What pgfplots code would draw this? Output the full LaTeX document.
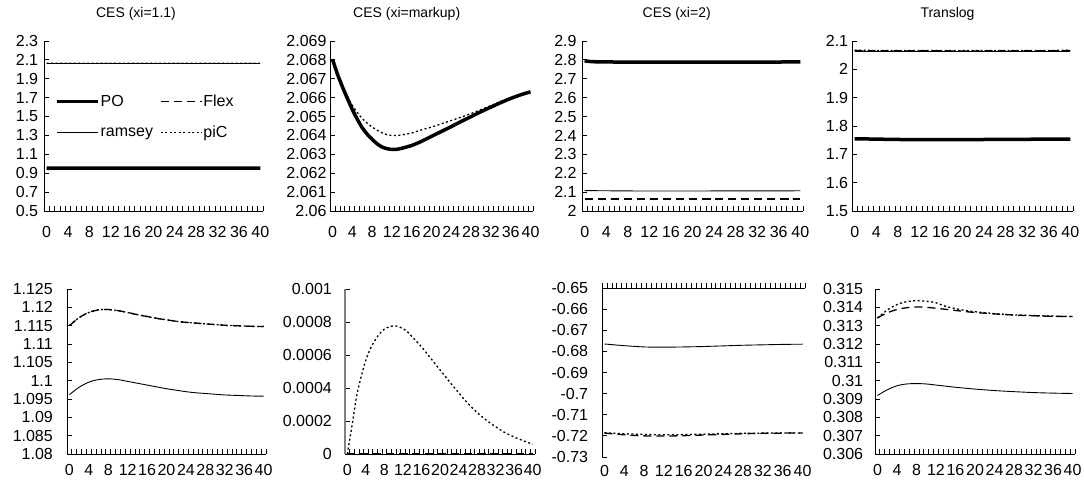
\documentclass[border=0pt]{standalone}
\usepackage{fontspec}
\setmainfont{Liberation Sans}
\usepackage{pgfplots}
\pgfplotsset{compat=1.18}
\pgfplotsset{
  panel/.style={
    scale only axis, anchor=north west,
    axis x line*=bottom, axis y line*=left,
    axis line style={-, black, line width=0.8pt},
    xmin=-0.5, xmax=40.5,
    xtick={0,4,...,40},
    xticklabels={0,4,8,12,16,20,24,28,32,36,40},
    minor xtick={-0.5,0.5,...,40.5},
    major x tick style={draw=none},
    tick align=inside,
    major tick length=5pt, minor tick length=5pt,
    tick style={black, line width=0.8pt},
    ticklabel style={font=\fontsize{16}{19}\selectfont, inner sep=0pt},
    xticklabel style={anchor=north},
    yticklabel style={anchor=east},
    scaled y ticks=false,
    clip=false,
  },
  PO/.style={black, line width=3.5pt, smooth},
  Flex/.style={black, line width=1.3pt, dash pattern=on 8pt off 5pt, smooth},
  ramsey/.style={black, line width=0.9pt, smooth},
  piC/.style={black, line width=1.3pt, dash pattern=on 2pt off 2.5pt, smooth},
}
\begin{document}
\begin{tikzpicture}
\useasboundingbox (0,0) rectangle (1084pt,-494pt);
\begin{scope}[font=\fontsize{14}{16}\selectfont]
\node at (136pt,-14pt) {CES (xi=1.1)};
\node at (406.7pt,-14pt) {CES (xi=markup)};
\node at (676.7pt,-14pt) {CES (xi=2)};
\node at (947.5pt,-14pt) {Translog};
\end{scope}

% ---------- Panel 1 ----------
\begin{axis}[panel, at={(44pt,-41pt)}, width=219pt, height=170pt,
  ymin=0.5, ymax=2.3,
  ytick={0.5,0.7,0.9,1.1,1.3,1.5,1.7,1.9,2.1,2.3},
  yticklabels={0.5,0.7,0.9,1.1,1.3,1.5,1.7,1.9,2.1,2.3},
  yticklabel style={xshift=-5.7pt},
  xticklabel style={yshift=-15.2pt},
  legend columns=2,
  legend image code/.code={\draw[#1] (0pt,0pt) -- (41pt,0pt);},
  legend style={draw=none, fill=none, at={(0.05,0.69)}, anchor=north west,
    font=\fontsize{16}{19}\selectfont, inner sep=0pt, row sep=16pt,
    nodes={inner sep=1pt, font=\fontsize{16}{19}\selectfont},
    /tikz/every even column/.append style={column sep=6pt}},
  legend cell align=left]
\addplot[PO] coordinates {(0,0.955) (20,0.953) (40,0.954)};
\addplot[Flex] coordinates {(0,2.062) (20,2.062) (40,2.062)};
\addplot[ramsey] coordinates {(0,2.060) (20,2.060) (40,2.060)};
\addplot[piC] coordinates {(0,2.065) (20,2.064) (40,2.065)};
\addplot[Flex, forget plot] coordinates {(0,2.062) (20,2.062) (40,2.062)};
\legend{PO,Flex,ramsey,piC}
\end{axis}

% ---------- Panel 2 ----------
\begin{axis}[panel, at={(330pt,-41pt)}, width=203pt, height=170pt,
  ymin=2.06, ymax=2.069,
  ytick={2.06,2.061,2.062,2.063,2.064,2.065,2.066,2.067,2.068,2.069},
  yticklabels={2.06,2.061,2.062,2.063,2.064,2.065,2.066,2.067,2.068,2.069},
  yticklabel style={xshift=-3.3pt},
  xticklabel style={yshift=-15.2pt}]
\addplot[piC] coordinates {(0,2.06803) (1,2.06730) (2,2.06665) (3,2.06610) (4,2.06560)
 (5,2.06522) (6,2.06490) (7,2.06465) (8,2.06445) (9,2.06428) (10,2.06414) (11,2.06404)
 (12,2.06400) (13,2.06400) (14,2.06403) (16,2.06413) (18,2.06430) (20,2.06444) (22,2.06462)
 (24,2.06479) (26,2.06497) (28,2.06516) (30,2.06537) (32,2.06558) (34,2.06580) (36,2.06598)
 (38,2.06616) (40,2.06631)};
\addplot[PO] coordinates {(0,2.06803) (1,2.06725) (2,2.06658) (3,2.06596) (4,2.06538)
 (5,2.06486) (6,2.06441) (7,2.06407) (8,2.06380) (9,2.06356) (10,2.06339) (11,2.06330)
 (12,2.06326) (13,2.06327) (14,2.06332) (16,2.06347) (18,2.06369) (20,2.06395) (22,2.06421)
 (24,2.06447) (26,2.06474) (28,2.06500) (30,2.06526) (32,2.06550) (34,2.06574) (36,2.06596)
 (38,2.06615) (40,2.06631)};
\end{axis}

% ---------- Panel 3 ----------
\begin{axis}[panel, at={(582pt,-41pt)}, width=221pt, height=170pt,
  ymin=2, ymax=2.9,
  ytick={2,2.1,2.2,2.3,2.4,2.5,2.6,2.7,2.8,2.9},
  yticklabels={2,2.1,2.2,2.3,2.4,2.5,2.6,2.7,2.8,2.9},
  yticklabel style={xshift=-5.3pt},
  xticklabel style={yshift=-15.2pt}]
\addplot[piC] coordinates {(0,2.793) (10,2.788) (20,2.788) (40,2.789)};
\addplot[PO] coordinates {(0,2.795) (2,2.790) (10,2.788) (20,2.788) (40,2.789)};
\addplot[ramsey] coordinates {(0,2.108) (10,2.106) (20,2.106) (40,2.107)};
\addplot[Flex] coordinates {(0,2.063) (20,2.063) (40,2.063)};
\end{axis}

% ---------- Panel 4 ----------
\begin{axis}[panel, at={(852pt,-41pt)}, width=221pt, height=170pt,
  ymin=1.5, ymax=2.1,
  ytick={1.5,1.6,1.7,1.8,1.9,2,2.1},
  yticklabels={1.5,1.6,1.7,1.8,1.9,2,2.1},
  yticklabel style={xshift=-3.7pt},
  xticklabel style={yshift=-15.2pt}]
\addplot[PO] coordinates {(0,1.755) (10,1.752) (20,1.752) (40,1.754)};
\addplot[ramsey] coordinates {(0,2.064) (20,2.064) (40,2.064)};
\addplot[Flex] coordinates {(0,2.066) (20,2.065) (40,2.066)};
\addplot[piC] coordinates {(0,2.067) (20,2.066) (40,2.067)};
\end{axis}

% ---------- Panel 5 ----------
\begin{axis}[panel, at={(67pt,-289pt)}, width=199pt, height=165pt,
  ymin=1.08, ymax=1.125,
  ytick={1.08,1.085,1.09,1.095,1.1,1.105,1.11,1.115,1.12,1.125},
  yticklabels={1.08,1.085,1.09,1.095,1.1,1.105,1.11,1.115,1.12,1.125},
  yticklabel style={xshift=-14pt},
  xticklabel style={yshift=-10.5pt}]
\addplot[Flex] coordinates {(0,1.1150) (2,1.1172) (4,1.1186) (6,1.1193) (8,1.1194) (10,1.1191)
 (12,1.1186) (14,1.1180) (16,1.1175) (18,1.1170) (20,1.1166) (22,1.1162) (24,1.1159) (26,1.1157)
 (28,1.1155) (30,1.1153) (32,1.1151) (34,1.1150) (36,1.1149) (38,1.1148) (40,1.1148)};
\addplot[piC] coordinates {(0,1.1150) (2,1.1172) (4,1.1186) (6,1.1193) (8,1.1194) (10,1.1191)
 (12,1.1186) (14,1.1180) (16,1.1175) (18,1.1170) (20,1.1166) (22,1.1162) (24,1.1159) (26,1.1157)
 (28,1.1155) (30,1.1153) (32,1.1151) (34,1.1150) (36,1.1149) (38,1.1148) (40,1.1148)};
\addplot[ramsey] coordinates {(0,1.0962) (2,1.0982) (4,1.0996) (6,1.1003) (8,1.1005) (10,1.1003)
 (12,1.0998) (14,1.0993) (16,1.0988) (18,1.0983) (20,1.0978) (22,1.0974) (24,1.0970) (26,1.0967)
 (28,1.0965) (30,1.0963) (32,1.0961) (34,1.0960) (36,1.0959) (38,1.0958) (40,1.0958)};
\end{axis}

% ---------- Panel 6 ----------
\begin{axis}[panel, at={(345pt,-289pt)}, width=190pt, height=165pt,
  ymin=0, ymax=0.001,
  y axis line style={gray, line width=1.2pt},
  ytick={0,0.0002,0.0004,0.0006,0.0008,0.001},
  yticklabels={0,0.0002,0.0004,0.0006,0.0008,0.001},
  yticklabel style={xshift=-13pt},
  xticklabel style={yshift=-10.5pt}]
\addplot[ramsey] coordinates {(0,0) (20,0) (40,0)};
\addplot[Flex] coordinates {(0,0) (20,0) (40,0)};
\addplot[piC] coordinates {(0,0) (1,0.00017) (2,0.00035) (3,0.00047) (4,0.00057) (5,0.00064)
 (6,0.00069) (7,0.00073) (8,0.000757) (9,0.00077) (10,0.000777) (11,0.000772) (12,0.00076)
 (13,0.00074) (14,0.00071) (16,0.00065) (18,0.00058) (20,0.00051) (22,0.00044) (24,0.000372)
 (26,0.000307) (28,0.000252) (30,0.000205) (32,0.000165) (34,0.00013) (36,0.000103) (38,0.00008)
 (40,0.00006)};
\end{axis}

% ---------- Panel 7 ----------
\begin{axis}[panel, at={(602pt,-288pt)}, width=203pt, height=169pt,
  axis x line*=top,
  minor x tick style={yshift=5pt},
  ymin=-0.73, ymax=-0.65,
  ytick={-0.73,-0.72,-0.71,-0.7,-0.69,-0.68,-0.67,-0.66,-0.65},
  yticklabels={-0.73,-0.72,-0.71,-0.7,-0.69,-0.68,-0.67,-0.66,-0.65},
  yticklabel style={xshift=-13.7pt},
  xticklabel style={anchor=north, yshift=-177.5pt}]
\addplot[ramsey] coordinates {(0,-0.6765) (4,-0.6773) (8,-0.6779) (12,-0.6780) (16,-0.6779)
 (20,-0.6777) (24,-0.6774) (28,-0.6771) (32,-0.6769) (36,-0.6767) (40,-0.6766)};
\addplot[Flex] coordinates {(0,-0.7187) (4,-0.7195) (8,-0.7200) (12,-0.7201) (16,-0.7199)
 (20,-0.7196) (24,-0.7193) (28,-0.7190) (32,-0.7188) (36,-0.7187) (40,-0.7186)};
\addplot[piC] coordinates {(0,-0.7185) (4,-0.7190) (8,-0.7193) (12,-0.7195) (16,-0.7194)
 (20,-0.7192) (24,-0.7190) (28,-0.7188) (32,-0.7187) (36,-0.7186) (40,-0.7186)};
\end{axis}

% ---------- Panel 8 ----------
\begin{axis}[panel, at={(875pt,-289pt)}, width=200pt, height=165pt,
  ymin=0.306, ymax=0.315,
  ytick={0.306,0.307,0.308,0.309,0.31,0.311,0.312,0.313,0.314,0.315},
  yticklabels={0.306,0.307,0.308,0.309,0.31,0.311,0.312,0.313,0.314,0.315},
  yticklabel style={xshift=-11.7pt},
  xticklabel style={yshift=-10.5pt}]
\addplot[Flex] coordinates {(0,0.31342) (2,0.31370) (4,0.31388) (6,0.31398) (8,0.31402)
 (10,0.31400) (12,0.31395) (14,0.31389) (16,0.31383) (18,0.31377) (20,0.31372) (24,0.31364)
 (28,0.31358) (32,0.31354) (36,0.31351) (40,0.31350)};
\addplot[piC] coordinates {(0,0.31342) (2,0.31385) (4,0.31415) (6,0.31431) (8,0.31436)
 (10,0.31433) (12,0.31425) (14,0.31405) (16,0.31393) (18,0.31383) (20,0.31376) (24,0.31366)
 (28,0.31359) (32,0.31355) (36,0.31352) (40,0.31350)};
\addplot[ramsey] coordinates {(0,0.30919) (2,0.30950) (4,0.30972) (6,0.30982) (8,0.30984)
 (10,0.30982) (12,0.30976) (14,0.30970) (16,0.30964) (18,0.30959) (20,0.30954) (24,0.30946)
 (28,0.30940) (32,0.30935) (36,0.30932) (40,0.30930)};
\end{axis}
\end{tikzpicture}
\end{document}
